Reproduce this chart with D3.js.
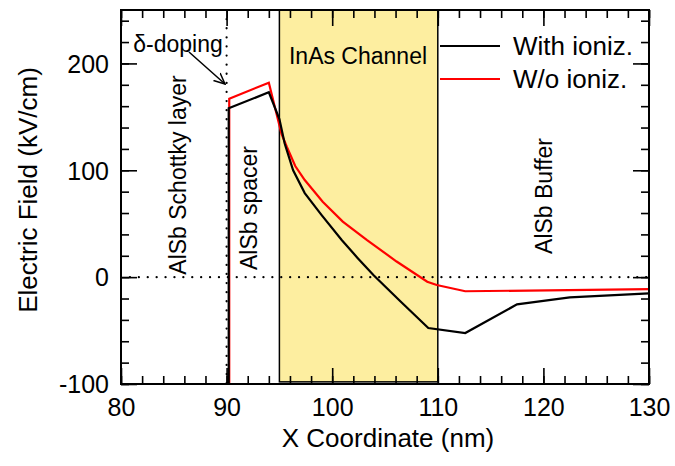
<!DOCTYPE html>
<html><head><meta charset="utf-8">
<script src="https://cdn.jsdelivr.net/npm/d3@7"></script>
<style>
body{margin:0;background:#fff;}
text{font-family:"Liberation Sans",Arial,sans-serif;fill:#000;}
</style></head>
<body><svg id="c" width="675" height="466"></svg>
<script>
// ---- data ----
const withX = [90.2, 90.2, 94.0, 95.0, 95.5, 96.3, 97.4, 99.0, 100.9, 102.4, 103.9, 106.5, 109.1, 112.6, 117.5, 122.5, 130];
const withY = [-100, 158, 173, 148, 125, 100, 78.7, 58.1, 34.7, 18, 2, -23, -47.6, -52.3, -25.5, -18.9, -15.2];
const woX = [90.25, 90.25, 94.0, 95.2, 95.7, 96.5, 97.4, 99.1, 101.0, 103.3, 106.1, 109.0, 109.9, 112.6, 130];
const woY = [-100, 167, 182, 134, 122, 104, 90.9, 70.6, 52, 34.7, 14.6, -4.3, -7.4, -13.2, -11.3];
const xTicks = [80, 90, 100, 110, 120, 130];
const yTicks = [-100, 0, 100, 200];
const seriesNames = ["With ioniz.", "W/o ioniz."];
const seriesColors = ["#000000", "#ff0000"];
const channel = [95, 110];
const deltaX = 90;

const svg = d3.select("#c");
const L = 121, R = 649, T = 10, B = 384;
const x = d3.scaleLinear().domain([80, 130]).range([L, R]);
const y = d3.scaleLinear().domain([-100, 250]).range([B, T]);
const fmt = d => String(d);

// channel rect
svg.append("rect").attr("x", x(channel[0])).attr("y", T)
  .attr("width", x(channel[1]) - x(channel[0])).attr("height", y(-98) - T)
  .attr("fill", "#fdeea0").attr("stroke", "#000").attr("stroke-width", 1.5);

// dotted reference lines
svg.append("line").attr("x1", L).attr("x2", R).attr("y1", y(0)).attr("y2", y(0))
  .attr("stroke", "#000").attr("stroke-width", 2.2).attr("stroke-dasharray", "0.1 8.8").attr("stroke-linecap", "round");
svg.append("line").attr("x1", x(deltaX)).attr("x2", x(deltaX)).attr("y1", T).attr("y2", B)
  .attr("stroke", "#000").attr("stroke-width", 2.2).attr("stroke-dasharray", "0.1 9").attr("stroke-linecap", "round");

// curves
const line = d3.line().x(d => x(d[0])).y(d => y(d[1]));
svg.append("path").datum(woX.map((v, i) => [v, woY[i]])).attr("d", line)
  .attr("fill", "none").attr("stroke", seriesColors[1]).attr("stroke-width", 2.2);
svg.append("path").datum(withX.map((v, i) => [v, withY[i]])).attr("d", line)
  .attr("fill", "none").attr("stroke", seriesColors[0]).attr("stroke-width", 2.2);

// axes (inward ticks, mirrored)
const fs = 25;
function styleAxis(g) { g.select(".domain").remove(); g.selectAll("line").attr("stroke", "#000").attr("stroke-width", 1.6); }
svg.append("g").attr("transform", `translate(0,${B})`)
  .call(d3.axisBottom(x).tickValues(d3.range(80, 131, 2)).tickSize(-8).tickFormat(""))
  .call(styleAxis);
svg.append("g").attr("transform", `translate(0,${B})`)
  .call(d3.axisBottom(x).tickValues(xTicks).tickSize(-16).tickPadding(14).tickFormat(fmt))
  .call(styleAxis).selectAll("text").attr("font-size", fs);
svg.append("g").attr("transform", `translate(0,${T})`)
  .call(d3.axisTop(x).tickValues(d3.range(80, 131, 2)).tickSize(-8).tickFormat("")).call(styleAxis);
svg.append("g").attr("transform", `translate(0,${T})`)
  .call(d3.axisTop(x).tickValues(xTicks).tickSize(-16).tickFormat("")).call(styleAxis);
svg.append("g").attr("transform", `translate(${L},0)`)
  .call(d3.axisLeft(y).tickValues(d3.range(-100, 251, 20)).tickSize(-8).tickFormat("")).call(styleAxis);
svg.append("g").attr("transform", `translate(${L},0)`)
  .call(d3.axisLeft(y).tickValues(yTicks).tickSize(-16).tickPadding(12).tickFormat(fmt))
  .call(styleAxis).selectAll("text").attr("font-size", fs).attr("dy", "0.35em");
svg.append("g").attr("transform", `translate(${R},0)`)
  .call(d3.axisRight(y).tickValues(d3.range(-100, 251, 20)).tickSize(-8).tickFormat("")).call(styleAxis);
svg.append("g").attr("transform", `translate(${R},0)`)
  .call(d3.axisRight(y).tickValues(yTicks).tickSize(-16).tickFormat("")).call(styleAxis);

// frame
svg.append("rect").attr("x", L).attr("y", T).attr("width", R - L).attr("height", B - T)
  .attr("fill", "none").attr("stroke", "#000").attr("stroke-width", 2);

// axis titles
svg.append("text").attr("x", (L + R) / 2 + 3).attr("y", 447).attr("text-anchor", "middle")
  .attr("font-size", 26).text("X Coordinate (nm)");
svg.append("text").attr("transform", "translate(37,190) rotate(-90)").attr("text-anchor", "middle")
  .attr("font-size", 26).text("Electric Field (kV/cm)");

// annotations
const af = 23;
svg.append("text").attr("x", 178).attr("y", 52).attr("text-anchor", "middle").attr("font-size", af).text("δ-doping");
svg.append("defs").append("marker").attr("id", "ah").attr("viewBox", "0 0 12 12").attr("refX", 11).attr("refY", 6)
  .attr("markerWidth", 12).attr("markerHeight", 12).attr("markerUnits", "userSpaceOnUse").attr("orient", "auto")
  .append("path").attr("d", "M0,1 L11,6 L0,11").attr("fill", "none").attr("stroke", "#000").attr("stroke-width", 1.5);
svg.append("line").attr("x1", 189).attr("y1", 52).attr("x2", 225).attr("y2", 84)
  .attr("stroke", "#000").attr("stroke-width", 1.5).attr("marker-end", "url(#ah)");
svg.append("text").attr("transform", "translate(186,175) rotate(-90)").attr("text-anchor", "middle").attr("font-size", af).text("AlSb Schottky layer");
svg.append("text").attr("transform", "translate(257,208) rotate(-90)").attr("text-anchor", "middle").attr("font-size", af).text("AlSb spacer");
svg.append("text").attr("transform", "translate(552,196) rotate(-90)").attr("text-anchor", "middle").attr("font-size", af).text("AlSb Buffer");
svg.append("text").attr("x", 358).attr("y", 64).attr("text-anchor", "middle").attr("font-size", 23).text("InAs Channel");

// legend
seriesNames.forEach((n, i) => {
  const yy = 46 + i * 33;
  svg.append("line").attr("x1", 440).attr("x2", 500).attr("y1", yy).attr("y2", yy)
    .attr("stroke", seriesColors[i]).attr("stroke-width", 2.2);
  svg.append("text").attr("x", 513).attr("y", yy + 9).attr("font-size", 26).text(n);
});
</script></body></html>
